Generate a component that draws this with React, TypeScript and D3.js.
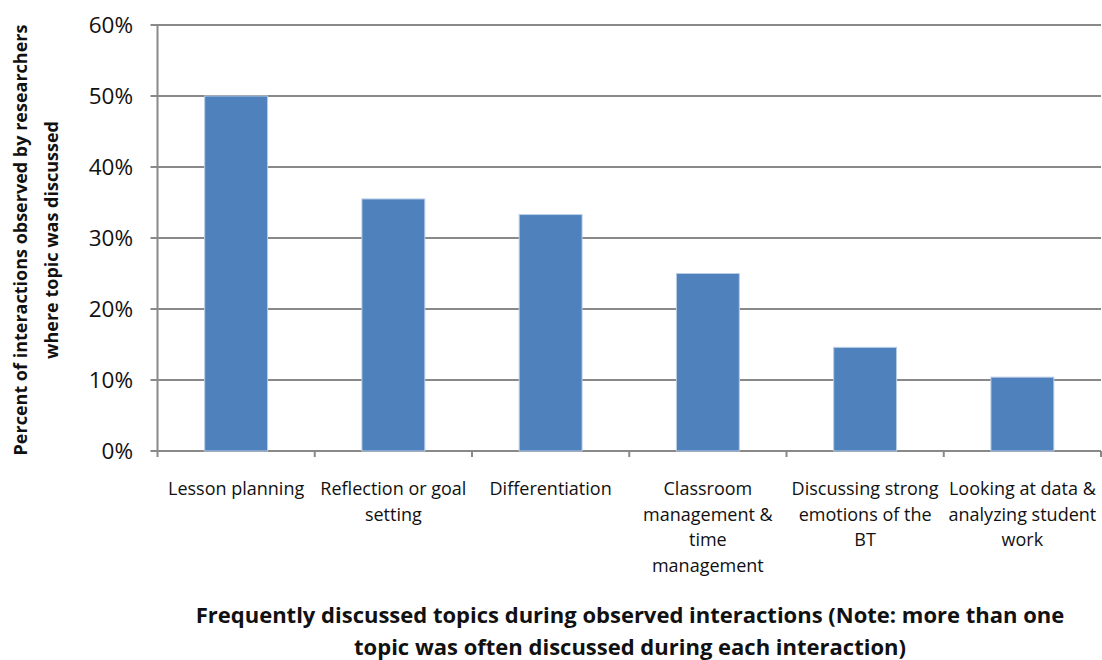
import * as d3 from "d3";

const categories = [
  "Lesson planning",
  "Reflection or goal setting",
  "Differentiation",
  "Classroom management & time management",
  "Discussing strong emotions of the BT",
  "Looking at data & analyzing student work",
];
// wrapped tick labels, as they break in the original
const categoryLines = [
  ["Lesson planning"],
  ["Reflection or goal", "setting"],
  ["Differentiation"],
  ["Classroom", "management &", "time", "management"],
  ["Discussing strong", "emotions of the", "BT"],
  ["Looking at data &", "analyzing student", "work"],
];
const values = [0.5, 0.355, 0.333, 0.25, 0.146, 0.104];
const yTicks = [0, 0.1, 0.2, 0.3, 0.4, 0.5, 0.6];
const yTitleLines = [
  "Percent of interactions observed by researchers",
  "where topic was discussed",
];
const xTitleLines = [
  "Frequently discussed topics during observed interactions (Note: more than one",
  "topic was often discussed during each interaction)",
];

const W = 1102;
const H = 660;
const left = 157.5;
const right = 1101;
const top = 25;
const bottom = 451;
const axisColor = "#898989";
const font = "'Open Sans', sans-serif";

export default function App() {
  const x = d3.scaleBand<string>().domain(categories).range([left, right]).paddingInner(0).paddingOuter(0);
  const y = d3.scaleLinear().domain([0, 0.6]).range([bottom, top]);
  const fmt = d3.format(".0%");
  const barW = x.bandwidth() * 0.4;
  const edges = [...categories.map((c) => x(c) as number), right];

  return (
    <svg
      width={W}
      height={H}
      style={{ position: "absolute", left: 0, top: 0, background: "white" }}
      fontFamily={font}
    >
      {yTicks.map((t) => (
        <g key={t}>
          <line x1={left - 7} x2={right} y1={y(t)} y2={y(t)} stroke={axisColor} strokeWidth={2} />
          <text x={133} y={y(t)} dy="0.35em" textAnchor="end" fontSize={22.5} fill="#111">
            {fmt(t)}
          </text>
        </g>
      ))}
      <line x1={left} x2={left} y1={top} y2={bottom} stroke={axisColor} strokeWidth={2} />
      {edges.map((e, i) => (
        <line key={i} x1={e} x2={e} y1={bottom} y2={bottom + 6} stroke={axisColor} strokeWidth={2} />
      ))}
      {categories.map((c, i) => {
        const cx = (x(c) as number) + x.bandwidth() / 2;
        return (
          <g key={c}>
            <rect
              x={cx - barW / 2}
              y={y(values[i])}
              width={barW}
              height={bottom - y(values[i])}
              fill="#4F81BD"
              stroke="#B9CDE5"
              strokeWidth={1}
            />
            <text textAnchor="middle" fontSize={18} fill="#111">
              {categoryLines[i].map((l, j) => (
                <tspan key={j} x={cx} y={495 + j * 25.5}>
                  {l}
                </tspan>
              ))}
            </text>
          </g>
        );
      })}
      <text
        transform="translate(27,240) rotate(-90)"
        textAnchor="middle"
        fontSize={18}
        fontWeight="bold"
        fill="#111"
      >
        {yTitleLines.map((l, j) => (
          <tspan key={j} x={0} y={j * 31}>
            {l}
          </tspan>
        ))}
      </text>
      <text textAnchor="middle" fontSize={22} fontWeight="bold" fill="#111">
        {xTitleLines.map((l, j) => (
          <tspan key={j} x={630} y={623 + j * 32}>
            {l}
          </tspan>
        ))}
      </text>
    </svg>
  );
}
